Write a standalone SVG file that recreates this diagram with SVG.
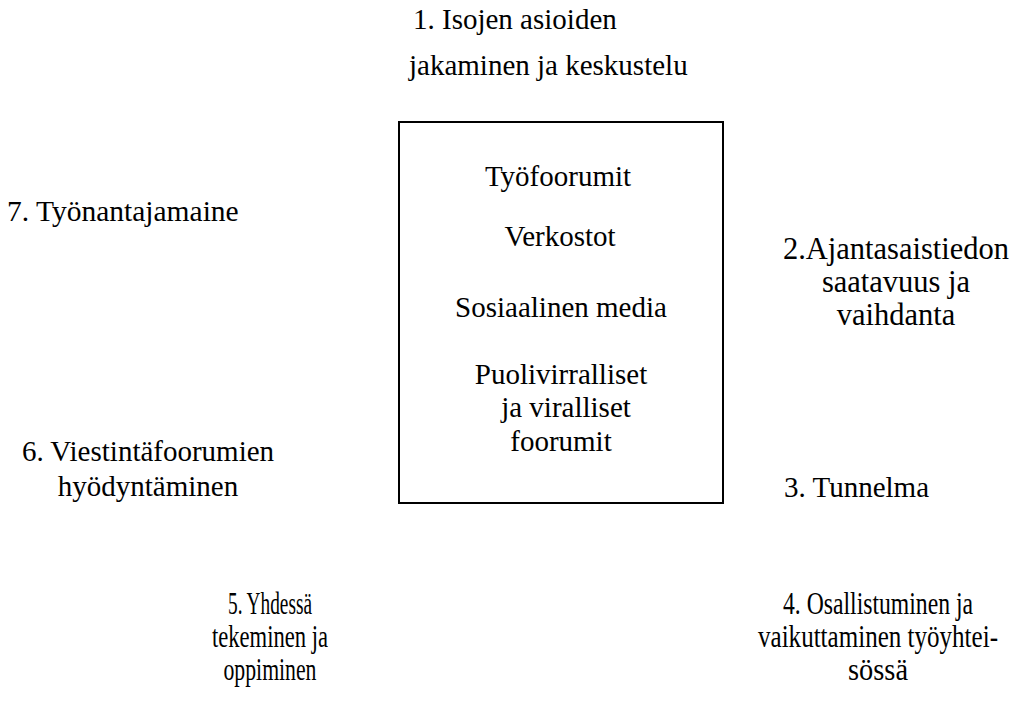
<svg xmlns="http://www.w3.org/2000/svg" width="1028" height="702" viewBox="0 0 1028 702" font-family="'Liberation Serif', 'Times New Roman', 'DejaVu Serif', serif" font-size="29">
<style>
text{font-family:'Liberation Serif','Times New Roman','DejaVu Serif',serif;font-size:29px;fill:#000}
.m{text-anchor:middle}
.box{fill:none;stroke:#000;stroke-width:2}
.big{font-size:30.5px}
.nar{font-size:31px}
</style>
<rect width="1028" height="702" fill="#fff"/>
<g id="center">
<rect class="box" x="399" y="122" width="324" height="381"/>
<text class="m" x="558" y="186">Työfoorumit</text>
<text class="m" x="560" y="246">Verkostot</text>
<text class="m" x="561" y="317">Sosiaalinen media</text>
<text class="m" x="561" y="384">Puolivirralliset</text>
<text class="m" x="566" y="417">ja viralliset</text>
<text class="m" x="561" y="451">foorumit</text>
</g>
<g id="n1">
<text x="413" y="29">1. Isojen asioiden</text>
<text x="409" y="75">jakaminen ja keskustelu</text>
</g>
<g id="n2">
<text class="m big" x="896" y="259">2.Ajantasaistiedon</text>
<text class="m big" x="896" y="292">saatavuus ja</text>
<text class="m big" x="896" y="325">vaihdanta</text>
</g>
<g id="n3">
<text x="784" y="497">3. Tunnelma</text>
</g>
<g id="n4">
<text class="m nar" x="878" y="614" textLength="190" lengthAdjust="spacingAndGlyphs">4. Osallistuminen ja</text>
<text class="m nar" x="878" y="647" textLength="240" lengthAdjust="spacingAndGlyphs">vaikuttaminen työyhtei-</text>
<text class="m nar" x="878" y="680" textLength="60" lengthAdjust="spacingAndGlyphs">sössä</text>
</g>
<g id="n5">
<text class="m nar" x="270" y="614" textLength="84" lengthAdjust="spacingAndGlyphs">5. Yhdessä</text>
<text class="m nar" x="270" y="647" textLength="116" lengthAdjust="spacingAndGlyphs">tekeminen ja</text>
<text class="m nar" x="270" y="680" textLength="93" lengthAdjust="spacingAndGlyphs">oppiminen</text>
</g>
<g id="n6">
<text class="m" x="148" y="461">6. Viestintäfoorumien</text>
<text class="m" x="148" y="496">hyödyntäminen</text>
</g>
<g id="n7">
<text x="7" y="221" style="font-size:29.5px">7. Työnantajamaine</text>
</g>
<g id="connectors"></g>
</svg>
